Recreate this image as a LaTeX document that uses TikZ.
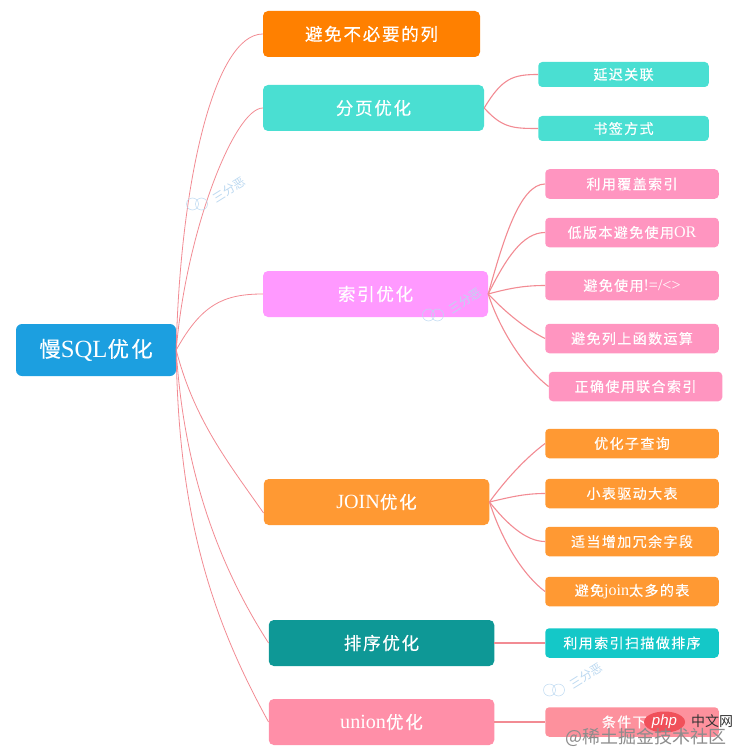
\documentclass[tikz,border=0pt]{standalone}
\usepackage{fontspec}
\usetikzlibrary{shapes.geometric}
\setmainfont[Scale=1.15]{Liberation Serif}
\setsansfont{Liberation Sans}
\newfontfamily\cjk[LetterSpace=10,FakeBold=0.35]{Noto Sans CJK SC}
\newfontfamily\cjkplain{Noto Sans CJK SC}
\newcommand{\lat}[1]{{\rmfamily #1}}
\definecolor{rootblue}{HTML}{1C9FE0}
\definecolor{avoidorange}{HTML}{FF8000}
\definecolor{pageteal}{HTML}{4ADFD2}
\definecolor{indexviolet}{HTML}{FF99FF}
\definecolor{joinorange}{HTML}{FF9933}
\definecolor{sortteal}{HTML}{0E9896}
\definecolor{unionpink}{HTML}{FF8FA8}
\definecolor{indexpink}{HTML}{FF95C0}
\definecolor{sortcyan}{HTML}{14C8C8}
\definecolor{pushsalmon}{HTML}{FD919D}
\definecolor{linkred}{HTML}{F28B93}
\definecolor{markblue}{HTML}{BBD8F0}
\definecolor{phpred}{HTML}{F0505A}
\tikzset{
  box/.style={rounded corners=4pt, inner sep=0pt, text=white, font=\cjk},
  mainbox/.style={box, rounded corners=5pt, minimum height=46pt, font=\cjk\fontsize{17.5}{19}\selectfont},
  subbox/.style={box, minimum height=29.5pt, font=\cjk\fontsize{14}{16}\selectfont},
  link/.style={draw=linkred, line width=0.8pt},
  sublink/.style={draw=linkred, line width=1.1pt},
  wmark/.pic={
    \draw[markblue, line width=0.5pt] (-4.5,0) circle (6pt);
    \draw[markblue, line width=0.5pt] (4.5,0) circle (6pt);
    \node[text=markblue, rotate=32, font=\cjkplain\fontsize{12}{14}\selectfont] (marktext) at (32,-14) {三分恶};
  }
}
\begin{document}
\begin{tikzpicture}[x=1pt,y=-1pt]
 \useasboundingbox (0,0) rectangle (743,754);
 \begin{scope}[every node/.style={mainbox}]
  \node[fill=rootblue, rounded corners=6pt, minimum width=160pt, minimum height=52pt, font=\cjk\fontsize{21.5}{23}\selectfont] (root) at (96,350) {慢\lat{SQL}优化};
  \node[fill=avoidorange, minimum width=217pt] (a1) at (371.5,34) {避免不必要的列};
  \node[fill=pageteal, minimum width=221pt] (a2) at (373.5,108) {分页优化};
  \node[fill=indexviolet, minimum width=225pt] (a3) at (375.5,294) {索引优化};
  \node[fill=joinorange, minimum width=225.5pt] (a4) at (376.5,502) {\lat{JOIN}优化};
  \node[fill=sortteal, minimum width=225.5pt] (a5) at (381.5,643) {排序优化};
  \node[fill=unionpink, minimum width=225.5pt] (a6) at (381.5,722) {\lat{union}优化};
 \end{scope}
 \begin{scope}[every node/.style={subbox}]
  \node[fill=pageteal, minimum width=170.5pt, minimum height=25pt] (b1) at (623.5,74.5) {延迟关联};
  \node[fill=pageteal, minimum width=170.5pt, minimum height=25pt] (b2) at (623.5,128.5) {书签方式};
  \node[fill=indexpink, minimum width=173.5pt] (c1) at (632,184) {利用覆盖索引};
  \node[fill=indexpink, minimum width=173.5pt] (c2) at (632,232.5) {低版本避免使用\lat{OR}};
  \node[fill=indexpink, minimum width=173.5pt] (c3) at (632,285.5) {避免使用\lat{!=/<>}};
  \node[fill=indexpink, minimum width=173.5pt] (c4) at (632,338.5) {避免列上函数运算};
  \node[fill=indexpink, minimum width=173.5pt] (c5) at (635.5,386.5) {正确使用联合索引};
  \node[fill=joinorange, minimum width=173.5pt] (d1) at (632,443.5) {优化子查询};
  \node[fill=joinorange, minimum width=173.5pt] (d2) at (632,493.5) {小表驱动大表};
  \node[fill=joinorange, minimum width=173.5pt] (d3) at (632,541.5) {适当增加冗余字段};
  \node[fill=joinorange, minimum width=173.5pt] (d4) at (632,591.5) {避免\lat{join}太多的表};
  \node[fill=sortcyan, minimum width=173.5pt] (e1) at (632,643) {利用索引扫描做排序};
  \node[fill=pushsalmon, minimum width=173.5pt] (f1) at (632,722) {条件下推};
 \end{scope}
 \draw[link] (root.east) .. controls +(4,-170) and +(-48,0) .. (a1.west);
 \draw[link] (root.east) .. controls +(10,-120) and +(-28,0) .. (a2.west);
 \draw[link] (root.east) .. controls +(25,-45) and +(-40,0) .. (a3.west);
 \draw[link] (root.east) .. controls +(18,70) and +(-35,-50) .. ([yshift=-11pt]a4.west);
 \draw[link] (root.east) .. controls +(8,130) and +(-45,-70) .. (a5.west);
 \draw[link] (root.east) .. controls +(2,170) and +(-55,-100) .. (a6.west);
 \draw[sublink] (a2.east) .. controls +(18,-30) and +(-25,0) .. (b1.west);
 \draw[sublink] (a2.east) .. controls +(18,20) and +(-25,0) .. (b2.west);
 \draw[sublink] (a3.east) .. controls +(15,-54) and +(-25,0) .. (c1.west);
 \draw[sublink] (a3.east) .. controls +(17,-34) and +(-23,0) .. (c2.west);
 \draw[sublink] (a3.east) .. controls +(22,-6) and +(-20,0) .. (c3.west);
 \draw[sublink] (a3.east) .. controls +(17,18) and +(-20,-10) .. (c4.west);
 \draw[sublink] (a3.east) .. controls +(10,31) and +(-28,-22) .. (c5.west);
 \draw[sublink] (a4.east) .. controls +(16,-22) and +(-20,15) .. (d1.west);
 \draw[sublink] (a4.east) .. controls +(21,-5) and +(-20,0) .. (d2.west);
 \draw[sublink] (a4.east) .. controls +(16,20) and +(-20,0) .. (d3.west);
 \draw[sublink] (a4.east) .. controls +(14,43) and +(-20,-15) .. (d4.west);
 \draw[sublink] (a5.east) -- (e1.west);
 \draw[sublink] (a6.east) -- (f1.west);
 \pic at (197,204) {wmark};
 \pic at (433,315) {wmark};
 \pic at (554,690) {wmark};
 \node[ellipse, fill=phpred, minimum width=41pt, minimum height=21pt, inner sep=0pt, text=white, font=\sffamily\itshape\fontsize{15}{15}\selectfont] (php) at (664.5,722) {php};
 \node[text=black!80, font=\cjkplain\fontsize{14}{16}\selectfont, inner sep=0pt] (phpname) at (712,721) {中文网};
 \node[text=black!45, font=\cjkplain\fontsize{18}{20}\selectfont, inner sep=0pt] (juejin) at (646,737) {@稀土掘金技术社区};
\end{tikzpicture}
\end{document}
